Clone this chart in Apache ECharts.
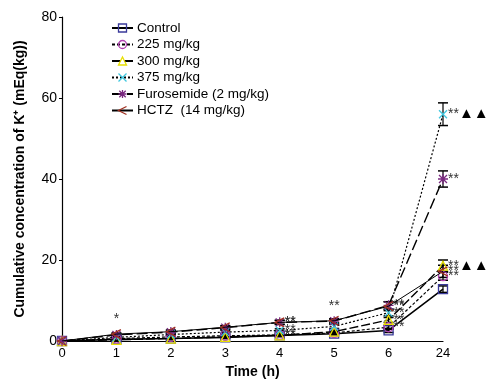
<!DOCTYPE html>
<html><head><meta charset="utf-8">
<script src="https://cdn.jsdelivr.net/npm/echarts@6/dist/echarts.min.js"></script>
<style>html,body{margin:0;padding:0;background:#fff}#c{width:495px;height:384px}</style>
</head><body><div id="c"></div>
<script>
var categories = ['0','1','2','3','4','5','6','24'];
var yTicks = [0,20,40,60,80];
var seriesNames = ['Control','225 mg/kg','300 mg/kg','375 mg/kg','Furosemide (2 mg/kg)','HCTZ  (14 mg/kg)'];
var control    = [0, 0.4, 0.6, 0.9, 1.4, 1.8, 2.6, 12.8];
var d225       = [0, 0.6, 1.0, 1.3, 1.5, 2.0, 3.4, 16.0];
var d300       = [0, 0.3, 0.6, 1.0, 1.4, 2.3, 5.2, 18.6];
var d375       = [0, 0.9, 1.6, 2.2, 2.6, 3.6, 7.0, 56.0];
var furosemide = [0, 1.5, 2.2, 3.3, 4.6, 4.9, 8.8, 40.0];
var hctz       = [0, 1.7, 2.3, 3.4, 4.6, 5.0, 8.6, 17.2];
var errControl = [0, 0.2, 0.2, 0.3, 0.3, 0.3, 0.5, 0.8];
var err225     = [0, 0.2, 0.3, 0.3, 0.3, 0.4, 0.5, 1.0];
var err300     = [0, 0.2, 0.3, 0.3, 0.3, 0.4, 0.6, 1.4];
var err375     = [0, 0.3, 0.3, 0.4, 0.4, 0.5, 0.8, 2.8];
var errFuro    = [0, 0.3, 0.4, 0.4, 0.5, 0.5, 0.9, 2.0];
var errHctz    = [0, 0.3, 0.4, 0.4, 0.5, 0.5, 1.1, 1.5];
var annot24    = ['', '{s|**}', '{s|**}{t|\u25B2\u25B2}', '{s|**}{t|\u25B2\u25B2}', '{s|**}', '{s|**}'];

var allVals = [control, d225, d300, d375, furosemide, hctz];
var allErr = [errControl, err225, err300, err375, errFuro, errHctz];
var markerColors = ['#3a3a9a','#b040b0','#e8e000','#40c8e0','#7a2a80','#a03020'];
var symbols = [
  'rect','circle','triangle',
  'path://M-4,-4L4,4M-4,4L4,-4',
  'path://M0,-5L0,5M-5,0L5,0M-4,-4L4,4M-4,4L4,-4',
  'path://M4,-4L-2,0L4,4'
];
var dashes = ['solid',[3,2],[9,3],[2,2],[11,4],'solid'];
var lineWidths = [1.6,1.2,1.4,1.2,1.4,1.0];
var fills = ['rgba(255,255,255,0)','rgba(255,255,255,0)','rgba(255,255,255,0)','#40c8e0','#7a2a80','rgba(255,255,255,0)'];

var series = [];
allVals.forEach(function(vals, i){
  var mp = [];
  if (i > 0) {
    mp.push({coord:['24', vals[7]], label:{formatter: annot24[i]}});
    mp.push({coord:['6', vals[6]], label:{formatter:'{s|**}'}});
    mp.push({coord:['4', vals[4]], label:{formatter:'{s|**}'}});
  }
  if (i === 5) {
    mp.push({coord:['1', vals[1]], label:{formatter:'{s|*}', position:'top', distance:8}});
    mp.push({coord:['5', vals[5]], label:{formatter:'{s|**}', position:'top', distance:8}});
  }
  series.push({
    name: seriesNames[i], type:'line', data: vals, z: 3 + i,
    symbol: symbols[i], symbolSize: i===4?10:(i===3?8:9),
    showSymbol: true,
    lineStyle:{color:'#000', width: lineWidths[i], type: dashes[i]},
    itemStyle:{color: fills[i], borderColor: markerColors[i], borderWidth: 1.3},
    markPoint: mp.length ? {
      symbol:'circle', symbolSize:0, silent:true,
      label:{show:true, position:'right', distance:5, color:'#222', fontFamily:'Liberation Sans',
        rich:{s:{fontSize:14, color:'#333'}, t:{fontSize:15, color:'#000'}}},
      data: mp
    } : undefined
  });
  var errData = vals.map(function(v, k){ return [k, v - allErr[i][k], v + allErr[i][k]]; });
  series.push({
    type:'custom', silent:true, z: 2, data: errData, encode:{x:0, y:[1,2]},
    renderItem: function(params, api){
      var x = api.value(0);
      var lo = api.coord([x, api.value(1)]);
      var hi = api.coord([x, api.value(2)]);
      var cw = 5;
      return {type:'group', children:[
        {type:'line', shape:{x1:lo[0],y1:lo[1],x2:hi[0],y2:hi[1]}, style:{stroke:'#000', lineWidth:1.2}},
        {type:'line', shape:{x1:lo[0]-cw,y1:lo[1],x2:lo[0]+cw,y2:lo[1]}, style:{stroke:'#000', lineWidth:1.5}},
        {type:'line', shape:{x1:hi[0]-cw,y1:hi[1],x2:hi[0]+cw,y2:hi[1]}, style:{stroke:'#000', lineWidth:1.5}}
      ]};
    }
  });
});

var legendData = seriesNames.map(function(n, i){
  return {name:n, itemStyle:{color: fills[i], borderColor: markerColors[i], borderWidth:1.3}};
});

var chart = echarts.init(document.getElementById('c'), null, {renderer:'canvas'});
chart.setOption({
  animation:false,
  backgroundColor:'#fff',
  textStyle:{fontFamily:'Liberation Sans'},
  grid:{left:62, right:52, top:17, bottom:42, containLabel:false},
  legend:{
    data: legendData, orient:'vertical', left:106, top:16, itemGap:2.5,
    itemWidth:21, itemHeight:10,
    textStyle:{fontSize:13.5, color:'#000', fontFamily:'Liberation Sans', padding:[0,0,0,-1]}
  },
  xAxis:{
    type:'category', data: categories, boundaryGap:false,
    name:'Time (h)', nameLocation:'middle', nameGap:24,
    nameTextStyle:{fontSize:14, fontWeight:'bold', color:'#000'},
    axisLine:{lineStyle:{color:'#000', width:1.2}},
    axisTick:{show:false},
    axisLabel:{color:'#000', fontSize:13, margin:6},
    splitLine:{show:false}
  },
  yAxis:{
    type:'value', min:yTicks[0], max:yTicks[yTicks.length-1], interval:20,
    name:'Cumulative concentration of K\u207A (mEq(kg))', nameLocation:'middle', nameGap:35,
    nameTextStyle:{fontSize:14, fontWeight:'bold', color:'#000'},
    axisLine:{show:true, lineStyle:{color:'#000', width:1.2}},
    axisTick:{show:true, length:3, lineStyle:{color:'#000'}},
    axisLabel:{color:'#000', fontSize:14, margin:5},
    splitLine:{show:false}
  },
  series: series
});
</script></body></html>
